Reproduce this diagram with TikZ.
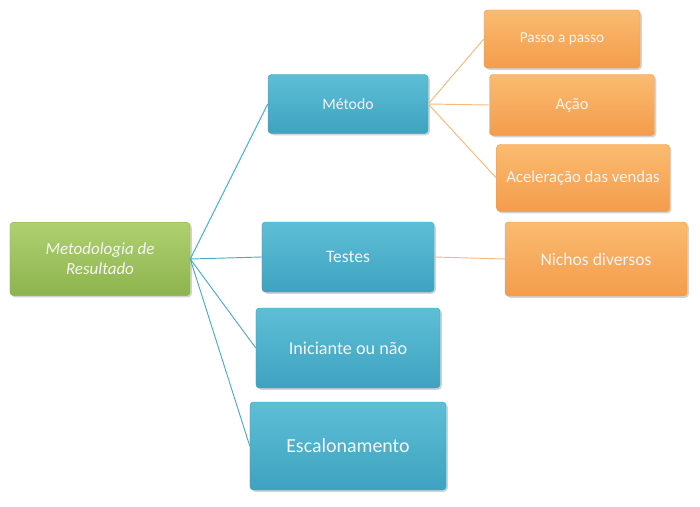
\documentclass[tikz,border=0pt]{standalone}
\usepackage{fontspec}
\setmainfont{Carlito}
\usepackage{xcolor}
\definecolor{MRBlueTop}{RGB}{94,190,214}
\definecolor{MRBlueBot}{RGB}{62,163,192}
\definecolor{MROrangeTop}{RGB}{250,187,112}
\definecolor{MROrangeBot}{RGB}{244,156,76}
\definecolor{MRGreenTop}{RGB}{176,208,112}
\definecolor{MRGreenBot}{RGB}{140,180,78}
\definecolor{MRBlueLine}{RGB}{75,172,198}
\definecolor{MROrangeLine}{RGB}{247,185,122}
\usepackage{tikz}
\usetikzlibrary{shadows}

\begin{document}
\begin{tikzpicture}[x=0.03cm, y=-0.03cm]
\tikzstyle{boxB}=[rounded corners=3pt, top color=MRBlueTop, bottom color=MRBlueBot, draw=MRBlueBot, drop shadow={opacity=0.35, shadow xshift=1.5pt, shadow yshift=-1.5pt}, text=white!92!gray, align=center, inner sep=2pt]
\tikzstyle{boxO}=[rounded corners=3pt, top color=MROrangeTop, bottom color=MROrangeBot, draw=MROrangeBot, drop shadow={opacity=0.35, shadow xshift=1.5pt, shadow yshift=-1.5pt}, text=white!92!gray, align=center, inner sep=2pt, font=\fontsize{13}{15}\selectfont]
\tikzstyle{boxG}=[rounded corners=3pt, top color=MRGreenTop, bottom color=MRGreenBot, draw=MRGreenBot, drop shadow={opacity=0.35, shadow xshift=1.5pt, shadow yshift=-1.5pt}, text=white!92!gray, align=center, inner sep=2pt]
\tikzstyle{lnB}=[draw=MRBlueLine, line width=0.8pt]
\tikzstyle{lnO}=[draw=MROrangeLine, line width=0.8pt]

\useasboundingbox (0,0) rectangle (700,507);

% root
\node[boxG, minimum width=5.4cm, minimum height=2.2cm, font=\fontsize{14.5}{17}\selectfont\itshape] (root) at (100,259) {Metodologia de\\Resultado};

% second level
\node[boxB, minimum width=4.8cm, minimum height=1.77cm, font=\fontsize{13.5}{16}\selectfont] (met) at (348,104) {Método};
\node[boxB, minimum width=5.16cm, minimum height=2.1cm, font=\fontsize{15}{18}\selectfont] (tes) at (348,257) {Testes};
\node[boxB, minimum width=5.52cm, minimum height=2.4cm, font=\fontsize{15.5}{18}\selectfont] (ini) at (348,348) {Iniciante ou não};
\node[boxB, minimum width=5.88cm, minimum height=2.64cm, font=\fontsize{17}{20}\selectfont] (esc) at (348,446) {Escalonamento};

% third level
\node[boxO, minimum width=4.68cm, minimum height=1.74cm] (pas) at (562,39) {Passo a passo};
\node[boxO, minimum width=4.95cm, minimum height=1.83cm, font=\fontsize{14}{16}\selectfont] (aca) at (572,105) {Ação};
\node[boxO, minimum width=5.19cm, minimum height=2.01cm, font=\fontsize{14.3}{17}\selectfont] (ace) at (583,178) {Aceleração das vendas};
\node[boxO, minimum width=5.46cm, minimum height=2.22cm, font=\fontsize{15}{18}\selectfont] (nic) at (596,259) {Nichos diversos};

\draw[lnB] (root.east) -- (met.west);
\draw[lnB] (root.east) -- (tes.west);
\draw[lnB] (root.east) -- (ini.west);
\draw[lnB] (root.east) -- (esc.west);
\draw[lnO] (met.east) -- (pas.west);
\draw[lnO] (met.east) -- (aca.west);
\draw[lnO] (met.east) -- (ace.west);
\draw[lnO] (tes.east) -- (nic.west);
\end{tikzpicture}
\end{document}
